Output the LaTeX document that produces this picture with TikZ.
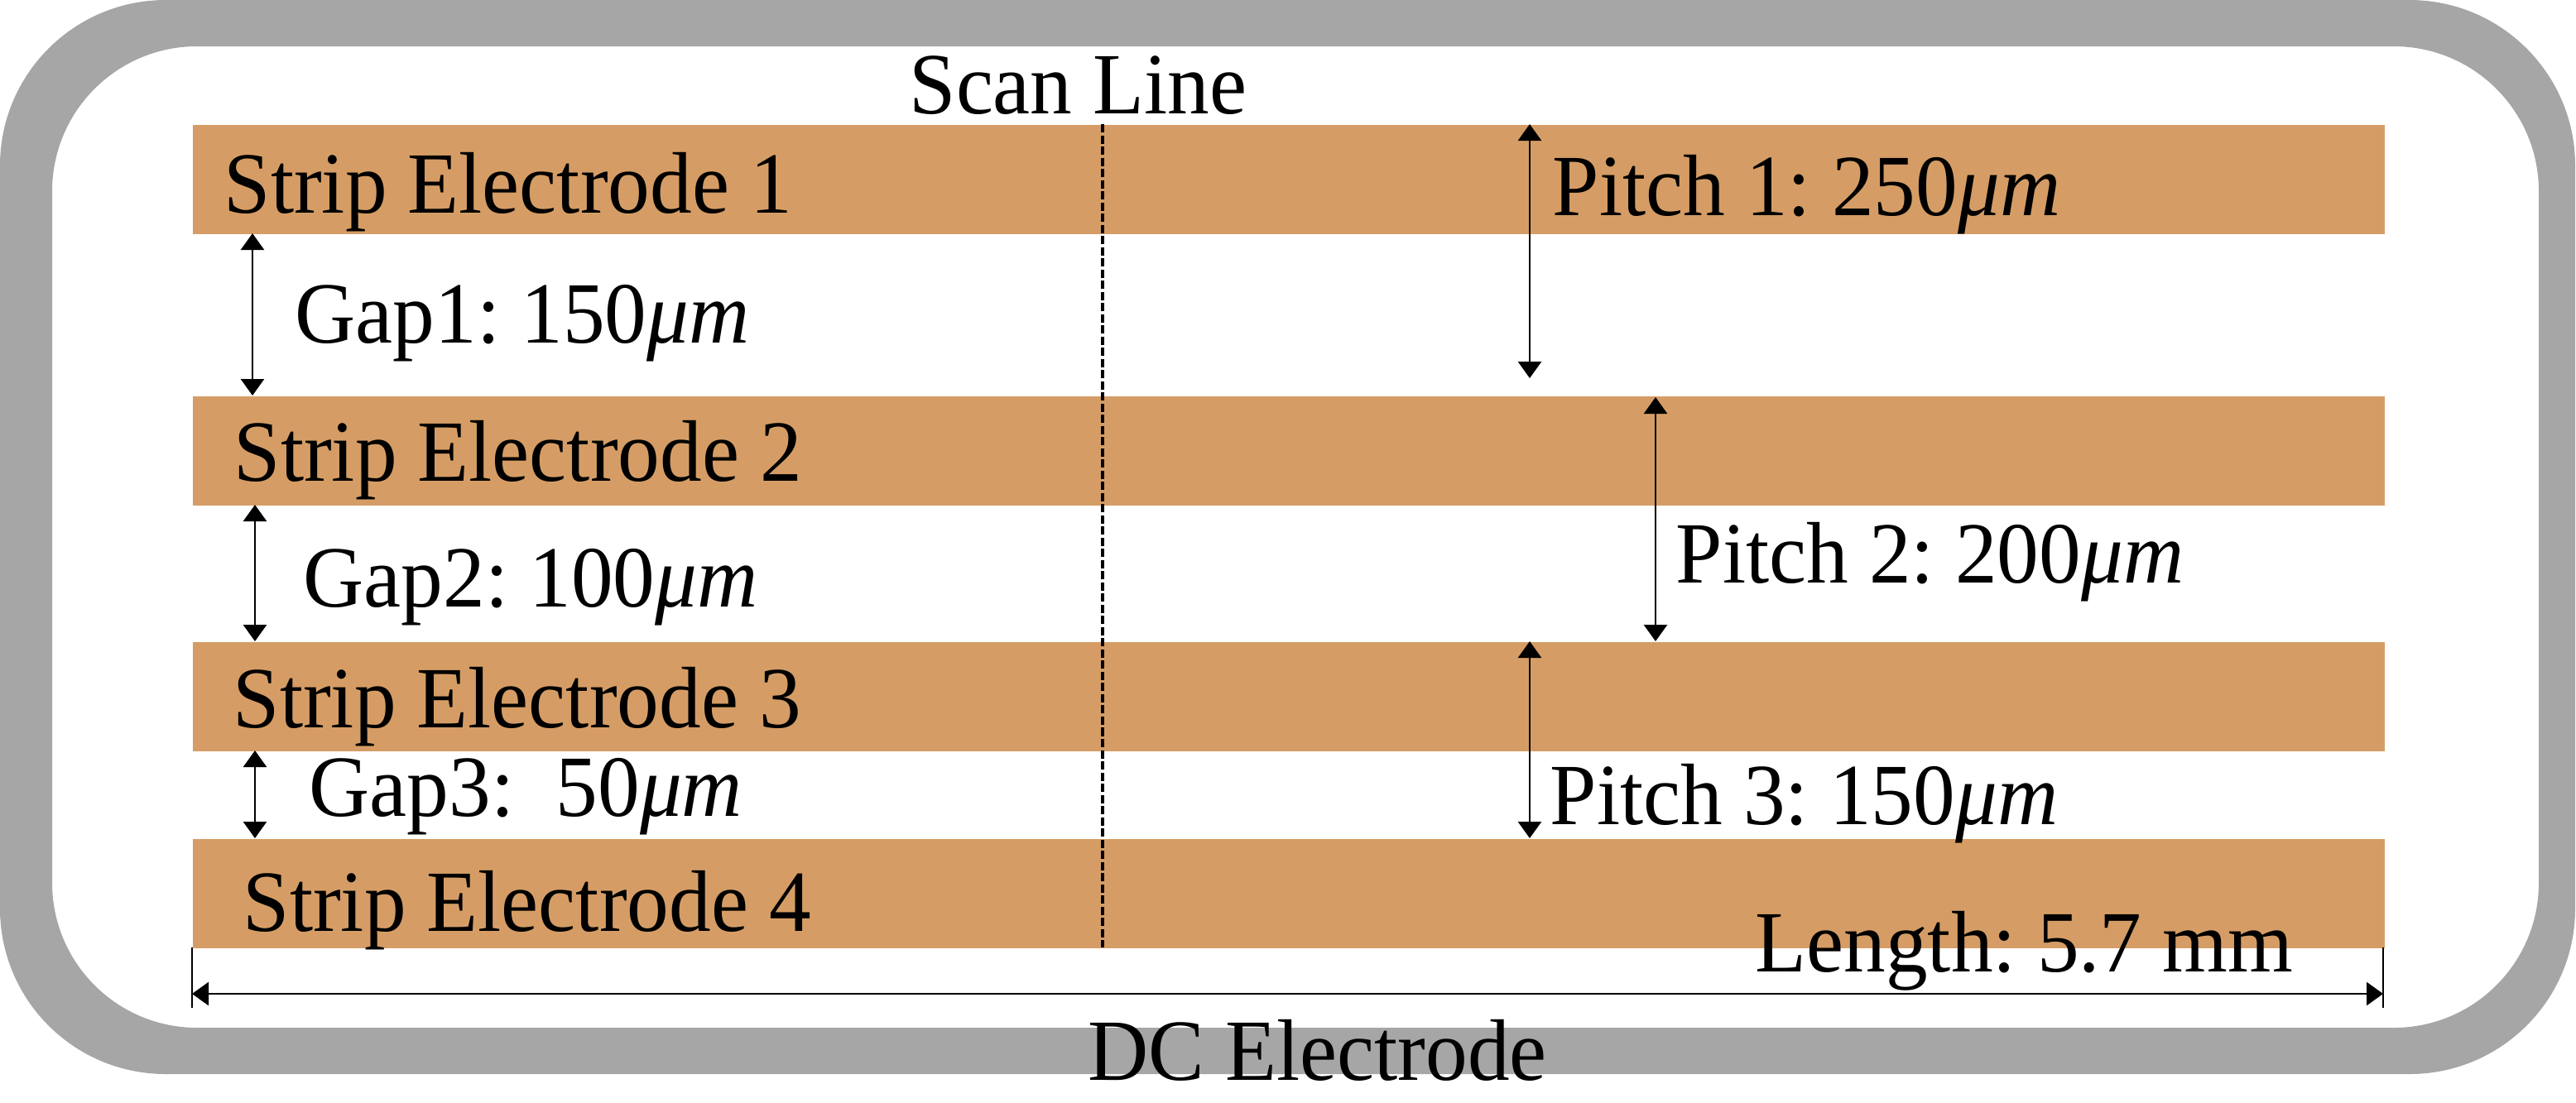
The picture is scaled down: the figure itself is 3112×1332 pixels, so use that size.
\documentclass[tikz,border=0pt]{standalone}
\usepackage{fontspec}
\setmainfont{Liberation Serif}[FakeStretch=0.96]
\usetikzlibrary{arrows.meta}
\definecolor{stripc}{RGB}{213,157,101}
\definecolor{framec}{RGB}{166,166,166}
\begin{document}
\frenchspacing
\begin{tikzpicture}[x=0.01cm,y=-0.01cm,
  lbl/.style={anchor=base west, inner sep=0pt, font=\fontsize{30}{36}\selectfont\frenchspacing},
  strip/.style={fill=stripc, draw=none, inner sep=0pt, anchor=north west, minimum width=26.47cm, minimum height=1.32cm},
  dim/.style={line width=0.75pt, {Triangle[width=0.28cm,length=0.2cm]}-{Triangle[width=0.28cm,length=0.2cm]}},
  tick/.style={line width=0.75pt},
  scanline/.style={line width=0.9pt, dash pattern=on 0.1cm off 0.035cm}]
\useasboundingbox (0,0) rectangle (3112,1332);
% DC electrode frame
\fill[framec, even odd rule] [rounded corners=2cm] (0,0) rectangle (3111,1298)
  [rounded corners=1.75cm] (63,56) rectangle (3067,1242);
% strips
\node[strip] (s1) at (232,150) {};
\node[strip] (s2) at (232,478) {};
\node[strip] (s3) at (232,775) {};
\node[strip] (s4) at (232,1013) {};
% scan line
\coordinate (sct) at (1332,150);
\coordinate (scb) at (1332,1145);
\draw[scanline] (sct) -- (scb);
% labels
\node[lbl] (tscan) at (1098,137) {Scan Line};
\node[lbl] (t1) at (270,257) {Strip Electrode 1};
\node[lbl] (t2) at (282,581) {Strip Electrode 2};
\node[lbl] (t3) at (281,879) {Strip Electrode 3};
\node[lbl] (t4) at (293,1125) {Strip Electrode 4};
\node[lbl] (tg1) at (356,414) {Gap1: 150\textit{μm}};
\node[lbl] (tg2) at (366,733) {Gap2: 100\textit{μm}};
\node[lbl] (tg3) at (373,986) {Gap3:\ \ 50\textit{μm}};
\node[lbl] (tp1) at (1875,260) {Pitch 1: 250\textit{μm}};
\node[lbl] (tp2) at (2024,704) {Pitch 2: 200\textit{μm}};
\node[lbl] (tp3) at (1872,996) {Pitch 3: 150\textit{μm}};
\node[lbl] (tlen) at (2120,1174) {Length: 5.7 mm};
\node[lbl] (tdc) at (1314,1305) {DC Electrode};
% gap arrows
\coordinate (g1a) at (305,282); \coordinate (g1b) at (305,478);
\coordinate (g2a) at (308,610); \coordinate (g2b) at (308,775);
\coordinate (g3a) at (308,907); \coordinate (g3b) at (308,1013);
\draw[dim] (g1a) -- (g1b);
\draw[dim] (g2a) -- (g2b);
\draw[dim] (g3a) -- (g3b);
% pitch arrows
\coordinate (p1a) at (1848,150); \coordinate (p1b) at (1848,457);
\coordinate (p2a) at (2000,480); \coordinate (p2b) at (2000,775);
\coordinate (p3a) at (1848,775); \coordinate (p3b) at (1848,1013);
\draw[dim] (p1a) -- (p1b);
\draw[dim] (p2a) -- (p2b);
\draw[dim] (p3a) -- (p3b);
% length
\coordinate (lta) at (232,1145); \coordinate (ltb) at (232,1218);
\coordinate (rta) at (2879,1145); \coordinate (rtb) at (2879,1218);
\coordinate (la) at (232,1201); \coordinate (lb) at (2879,1201);
\draw[tick] (lta) -- (ltb);
\draw[tick] (rta) -- (rtb);
\draw[dim] (la) -- (lb);
\end{tikzpicture}
\end{document}
